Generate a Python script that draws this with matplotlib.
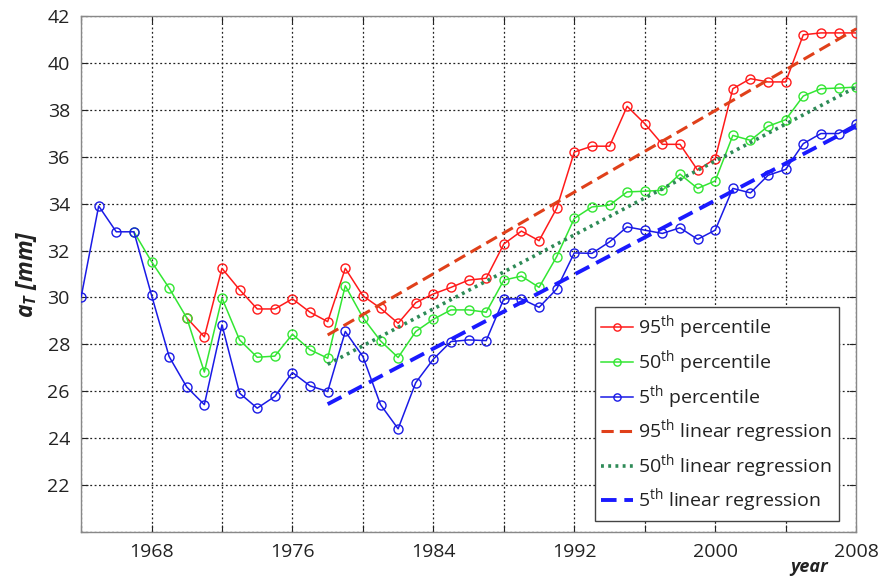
import matplotlib
matplotlib.use("Agg")
import matplotlib.pyplot as plt
import numpy as np

plt.rcParams['font.family'] = ['Open Sans', 'DejaVu Sans']
plt.rcParams['mathtext.fontset'] = 'custom'
plt.rcParams['mathtext.rm'] = 'Open Sans'
plt.rcParams['mathtext.it'] = 'Open Sans:italic'
plt.rcParams['mathtext.bf'] = 'Open Sans:bold'
plt.rcParams['mathtext.bfit'] = 'Open Sans:italic:bold'

# ---- data ----
years_p5 = list(range(1964, 2009))
p5 = [30.0, 33.9, 32.8, 32.8, 30.1, 27.48, 26.18, 25.43, 28.83, 25.92,
      25.28, 25.78, 26.8, 26.23, 25.99, 28.55, 27.48, 25.43, 24.4, 26.37,
      27.37, 28.12, 28.19, 28.16, 29.94, 29.94, 29.58, 30.36, 31.9, 31.88,
      32.37, 33.01, 32.87, 32.73, 32.97, 32.48, 32.87, 34.65, 34.46, 35.21,
      35.46, 36.56, 36.99, 36.99, 37.41]

years_p50 = list(range(1967, 2009))
p50 = [32.8, 31.53, 30.4, 29.13, 26.82, 29.97, 28.19, 27.45, 27.5, 28.43,
       27.77, 27.41, 30.5, 29.14, 28.15, 27.44, 28.55, 29.07, 29.47, 29.47,
       29.37, 30.74, 30.91, 30.43, 31.74, 33.37, 33.86, 33.94, 34.5, 34.53,
       34.57, 35.26, 34.65, 34.97, 36.91, 36.7, 37.3, 37.58, 38.59, 38.9,
       38.93, 38.97]

years_p95 = list(range(1970, 2009))
p95 = [29.13, 28.32, 31.24, 30.33, 29.51, 29.51, 29.94, 29.37, 28.97, 31.24,
       30.07, 29.54, 28.9, 29.78, 30.15, 30.43, 30.74, 30.82, 32.28, 32.83,
       32.42, 33.8, 36.2, 36.45, 36.45, 38.15, 37.41, 36.53, 36.53, 35.43,
       35.92, 38.9, 39.33, 39.19, 39.19, 41.2, 41.28, 41.28, 41.28]

reg_years = [1978, 2008]
reg95 = [28.4, 41.45]
reg50 = [27.15, 38.97]
reg5 = [25.45, 37.3]

xticks = list(range(1964, 2009, 4))
xticklabels = ['' if (y - 1968) % 8 else str(y) for y in xticks]
yticks = list(range(20, 43, 2))
yticklabels = ['' if y == 20 else str(y) for y in yticks]

# ---- figure ----
fig = plt.figure(figsize=(8.79, 5.85), dpi=100)
ax = fig.add_axes([0.0922, 0.0906, 0.8818, 0.882])

red = '#ff1a1a'
green = '#33e633'
blue = '#1a1ae6'

ax.plot(years_p95, p95, '-o', color=red, lw=1.1, ms=6.5, mfc='none', mew=1.0,
        label=r'95$^{\mathrm{th}}$ percentile', zorder=3)
ax.plot(years_p50, p50, '-o', color=green, lw=1.1, ms=6.5, mfc='none', mew=1.0,
        label=r'50$^{\mathrm{th}}$ percentile', zorder=3)
ax.plot(years_p5, p5, '-o', color=blue, lw=1.1, ms=6.5, mfc='none', mew=1.0,
        label=r'5$^{\mathrm{th}}$ percentile', zorder=3, clip_on=True)

ax.plot(reg_years, reg95, linestyle=(0, (4, 2)), color='#e0401a', lw=2.2,
        label=r'95$^{\mathrm{th}}$ linear regression', zorder=4)
ax.plot(reg_years, reg50, linestyle=(0, (0.8, 1.2)), color='#2e8b57', lw=2.6,
        label=r'50$^{\mathrm{th}}$ linear regression', zorder=4)
ax.plot(reg_years, reg5, linestyle=(0, (4, 2)), color='#1a1aff', lw=2.8,
        label=r'5$^{\mathrm{th}}$ linear regression', zorder=4)

ax.set_xlim(1964, 2008)
ax.set_ylim(20, 42)
ax.set_xticks(xticks)
ax.set_xticklabels(xticklabels)
ax.set_yticks(yticks)
ax.set_yticklabels(yticklabels)
ax.tick_params(direction='in', top=True, right=True, labelsize=14,
               colors='#222222', length=5, pad=8)
for s in ax.spines.values():
    s.set_color('#888888')
    s.set_linewidth(1.0)
ax.grid(True, color='#222222', linestyle=(0, (1.5, 2)), linewidth=0.9)

ax.set_ylabel(r'$\mathbfit{a}_{\mathbfit{T}}$ [mm]', fontsize=16.5, fontweight='bold',
              style='italic', color='#222222', labelpad=6)
fig.text(0.921, 0.015, 'year', fontsize=13, fontweight='bold', style='italic',
         color='#222222', ha='center', va='bottom')

leg = ax.legend(loc='lower right', bbox_to_anchor=(0.978, 0.021), borderaxespad=0,
                fontsize=14, handlelength=1.65, handletextpad=0.25, labelspacing=0.38,
                fancybox=False, framealpha=1, edgecolor='#444444', borderpad=0.35,
                markerscale=0.8)
leg.get_frame().set_linewidth(1.0)
for t in leg.get_texts():
    t.set_color('#222222')

fig.savefig('out.png', dpi=100)
